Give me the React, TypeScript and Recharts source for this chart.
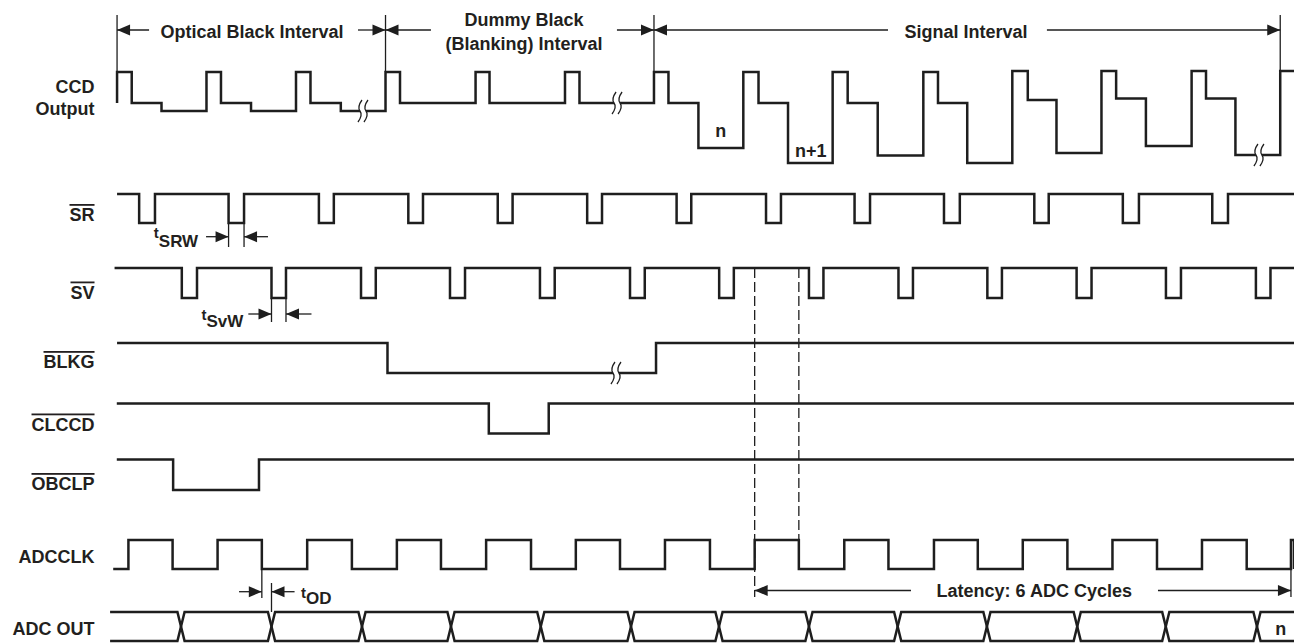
import React from "react";
import { ComposedChart, Line, XAxis, YAxis, ReferenceLine, ReferenceDot } from "recharts";

const W = 1294;
const H = 643;

// time axis: one unit = one ADC clock period, 0 = first ADCCLK rising edge
const T_START = -1.436;
const T_END = 13.034;

// ---------------- data ----------------

// CCD output, one entry per pixel cycle
const CCD_RESET_ON = [-0.127, 0.873, 1.874, 2.875, 3.882, 4.882, 5.877, 6.876, 7.875, 8.889, 9.884, 10.881, 11.889, 12.88];
const CCD_RESET_OFF = [0.037, 1.035, 2.036, 3.037, 4.038, 5.044, 6.039, 7.046, 8.043, 9.053, 10.057, 11.045, 12.05];
const CCD_VIDEO_ON = [0.37, 1.371, 2.375, 3.375, 4.375, 5.375, 6.374, 7.376, 8.379, 9.38, 10.378, 11.378, 12.379];
// levels relative to the black level (0)
const CCD_RESET = [31, 31, 31, 31, 31, 31, 31, 31, 31, 31, 32, 32, 32, 32];
const CCD_BLACK = [0, 0, 0, 0, 0, 0, 0, 0, 0, 0, 3, 4.5, 4.5];
const CCD_VIDEO = [-8, -8, -8, 0, 0, 0, -45, -60, -52.5, -60, -50, -43, -52];

// SR (low pulses: fall, rise)
const SR_PULSES = [
  [0.12, 0.297], [1.12, 1.293], [2.13, 2.297], [3.13, 3.294], [4.13, 4.296], [5.13, 5.296], [6.13, 6.294],
  [7.13, 7.297], [8.12, 8.293], [9.12, 9.297], [10.13, 10.291], [11.12, 11.3], [12.12, 12.296],
];
// SV (low pulses: fall, rise)
const SV_PULSES = [
  [0.597, 0.767], [1.6, 1.762], [2.601, 2.766], [3.596, 3.764], [4.602, 4.767], [5.609, 5.774], [6.606, 6.77],
  [7.61, 7.772], [8.611, 8.773], [9.605, 9.768], [10.603, 10.77], [11.602, 11.77], [12.608, 12.771],
];
const BLKG_LOW = [2.897, 5.9];
const CLCCD_LOW = [4.03, 4.7];
const OBCLP_LOW = [0.5, 1.46];
// ADCCLK (high pulses: rise, fall)
const ADCCLK_HIGH = [
  [0, 0.494], [0.997, 1.492], [1.999, 2.499], [3.002, 3.495], [4.0, 4.502], [5.003, 5.497], [6.0, 6.503],
  [7.003, 7.497], [8.005, 8.499], [9.008, 9.498], [10.001, 10.5], [11.004, 11.502], [12.005, 12.505], [13.0, T_END],
];
// ADC OUT data transitions
const ADC_OUT_CROSS = [0.588, 1.6, 2.612, 3.607, 4.611, 5.62, 6.604, 7.61, 8.602, 9.6, 10.61, 11.6, 12.62];

const INTERVALS = [
  { from: -0.127, to: 2.875, lines: ["Optical Black Interval"], mid: 1.382, gap: [0.231, 2.567] },
  { from: 2.875, to: 5.877, lines: ["Dummy Black", "(Blanking) Interval"], mid: 4.424, gap: [3.383, 5.463] },
  { from: 5.877, to: 12.88, lines: ["Signal Interval"], mid: 9.366, gap: [8.494, 10.271] },
];

// ---------------- layout ----------------
const LABEL_T = -0.379;
const INK = "#1e1e1e";
const TXT: React.CSSProperties = {
  fontFamily: '"Liberation Sans", Arial, Helvetica, sans-serif',
  fontWeight: 700,
  fill: "#231f20",
};
const CCD_Y0 = 103;
const ccdY = (v: number) => CCD_Y0 - v;
const LANE = {
  sr: [194, 223],
  sv: [268, 298],
  blkg: [343, 373],
  clccd: [403.5, 433.5],
  obclp: [459.5, 490],
  adcclk: [540, 569],
  adcout: [612, 641],
};

type Pt = { t: number; y: number };

const steps = (start: number, edges: number[], startHigh: boolean, hi: number, lo: number): Pt[] => {
  let high = startHigh;
  const pts: Pt[] = [{ t: start, y: high ? hi : lo }];
  edges.forEach((e) => {
    pts.push({ t: e, y: high ? hi : lo });
    high = !high;
    pts.push({ t: e, y: high ? hi : lo });
  });
  if (edges[edges.length - 1] < T_END) pts.push({ t: T_END, y: high ? hi : lo });
  return pts;
};

const ccdPoints = (): Pt[] => {
  const pts: Pt[] = [{ t: CCD_RESET_ON[0], y: ccdY(0) }];
  CCD_RESET_ON.forEach((on, k) => {
    const prev = pts[pts.length - 1].y;
    pts.push({ t: on, y: prev }, { t: on, y: ccdY(CCD_RESET[k]) });
    if (k < CCD_RESET_OFF.length) {
      pts.push(
        { t: CCD_RESET_OFF[k], y: ccdY(CCD_RESET[k]) },
        { t: CCD_RESET_OFF[k], y: ccdY(CCD_BLACK[k]) },
        { t: CCD_VIDEO_ON[k], y: ccdY(CCD_BLACK[k]) },
        { t: CCD_VIDEO_ON[k], y: ccdY(CCD_VIDEO[k]) }
      );
    } else {
      pts.push({ t: T_END, y: ccdY(CCD_RESET[k]) });
    }
  });
  return pts;
};

const eye = (startTop: boolean): Pt[] => {
  const [top, bot] = LANE.adcout;
  const h = 0.04;
  let up = startTop;
  const pts: Pt[] = [{ t: -0.205, y: up ? top : bot }];
  ADC_OUT_CROSS.forEach((c) => {
    pts.push({ t: c - h, y: up ? top : bot });
    up = !up;
    pts.push({ t: c + h, y: up ? top : bot });
  });
  pts.push({ t: T_END, y: up ? top : bot });
  return pts;
};

const SERIES: { name: string; pts: Pt[] }[] = [
  { name: "ccd", pts: ccdPoints() },
  { name: "sr", pts: steps(-0.127, SR_PULSES.flat(), true, LANE.sr[0], LANE.sr[1]) },
  { name: "sv", pts: steps(-0.155, SV_PULSES.flat(), true, LANE.sv[0], LANE.sv[1]) },
  { name: "blkg", pts: steps(-0.127, BLKG_LOW, true, LANE.blkg[0], LANE.blkg[1]) },
  { name: "clccd", pts: steps(-0.13, CLCCD_LOW, true, LANE.clccd[0], LANE.clccd[1]) },
  { name: "obclp", pts: steps(-0.13, OBCLP_LOW, true, LANE.obclp[0], LANE.obclp[1]) },
  { name: "adcclk", pts: steps(-0.17, ADCCLK_HIGH.flat(), false, LANE.adcclk[0], LANE.adcclk[1]) },
  { name: "out_a", pts: eye(true) },
  { name: "out_b", pts: eye(false) },
];

// ---------------- helpers for annotations ----------------
const seg = (key: string, t1: number, y1: number, t2: number, y2: number, dash?: string) => (
  <ReferenceLine
    key={key}
    segment={[{ x: t1, y: y1 }, { x: t2, y: y2 }]}
    stroke={INK}
    strokeWidth={1.3}
    strokeDasharray={dash}
    ifOverflow="visible"
  />
);

const arrow = (key: string, t: number, y: number, dir: 1 | -1) => (
  <ReferenceDot
    key={key}
    x={t}
    y={y}
    r={1}
    ifOverflow="visible"
    shape={(p: any) => (
      <polygon
        points={`${p.cx},${p.cy} ${p.cx - 13 * dir},${p.cy - 5.5} ${p.cx - 13 * dir},${p.cy + 5.5}`}
        fill={INK}
      />
    )}
  />
);

const note = (key: string, t: number, y: number, body: React.ReactNode, anchor = "middle", style: React.CSSProperties = {}) => (
  <ReferenceDot
    key={key}
    x={t}
    y={y}
    r={1}
    ifOverflow="visible"
    shape={(p: any) => (
      <text x={p.cx} y={p.cy} textAnchor={anchor} style={{ ...TXT, fontSize: 18, ...style }}>
        {body}
      </text>
    )}
  />
);

const brk = (key: string, t: number, y: number) => (
  <ReferenceDot
    key={key}
    x={t}
    y={y}
    r={1}
    ifOverflow="visible"
    shape={(p: any) => {
      const { cx, cy } = p;
      const curve = (x: number) =>
        `M${x + 2},${cy - 11} Q${x - 3},${cy - 4} ${x},${cy} Q${x + 3},${cy + 4} ${x - 2},${cy + 11}`;
      return (
        <g>
          <rect x={cx - 3} y={cy - 3} width={6} height={6} fill="#fff" />
          <path d={curve(cx - 3)} fill="none" stroke={INK} strokeWidth={1.3} />
          <path d={curve(cx + 3)} fill="none" stroke={INK} strokeWidth={1.3} />
        </g>
      );
    }}
  />
);

const timing = (key: string, t: number, y: number, sub: string, tBase: number, subBase: number, anchor = "end") => (
  <ReferenceDot
    key={key}
    x={t}
    y={y}
    r={1}
    ifOverflow="visible"
    shape={(p: any) => (
      <text x={p.cx} y={p.cy + tBase} textAnchor={anchor} style={{ ...TXT }}>
        <tspan style={{ fontSize: 15 }}>t</tspan>
        <tspan style={{ fontSize: 17 }} dy={subBase - tBase}>
          {sub}
        </tspan>
      </text>
    )}
  />
);

const SIGNAL_LABELS: { text: string; y: number; bar?: boolean }[] = [
  { text: "CCD", y: 92.5 },
  { text: "Output", y: 115 },
  { text: "SR", y: 221, bar: true },
  { text: "SV", y: 298.5, bar: true },
  { text: "BLKG", y: 368, bar: true },
  { text: "CLCCD", y: 430.5, bar: true },
  { text: "OBCLP", y: 490, bar: true },
  { text: "ADCCLK", y: 563 },
  { text: "ADC OUT", y: 635 },
];

export default function App() {
  const annotations: React.ReactNode[] = [];

  // interval markers along the top
  INTERVALS.forEach((iv, i) => {
    annotations.push(seg(`iv${i}a`, iv.from, 30, iv.gap[0], 30));
    annotations.push(seg(`iv${i}b`, iv.gap[1], 30, iv.to, 30));
    annotations.push(arrow(`iv${i}l`, iv.from, 30, -1));
    annotations.push(arrow(`iv${i}r`, iv.to, 30, 1));
    if (iv.lines.length === 1) {
      annotations.push(note(`iv${i}t`, iv.mid, 37.5, iv.lines[0]));
    } else {
      annotations.push(note(`iv${i}t0`, iv.mid, 26, iv.lines[0]));
      annotations.push(note(`iv${i}t1`, iv.mid, 50, iv.lines[1]));
    }
  });
  [-0.127, 2.875, 5.877, 12.88].forEach((t, i) => annotations.push(seg(`ext${i}`, t, 15, t, 72)));

  // tSRW
  annotations.push(seg("srw1", 1.12, 223, 1.12, 247), seg("srw2", 1.293, 223, 1.293, 247));
  annotations.push(seg("srw3", 0.868, 236.7, 1.12, 236.7), arrow("srw4", 1.12, 236.7, 1));
  annotations.push(seg("srw5", 1.293, 236.7, 1.561, 236.7), arrow("srw6", 1.293, 236.7, -1));
  annotations.push(timing("srwt", 0.78, 0, "SRW", 238, 246.5));

  // tSvW
  annotations.push(seg("svw1", 1.6, 298, 1.6, 322), seg("svw2", 1.762, 298, 1.762, 322));
  annotations.push(seg("svw3", 1.341, 314, 1.6, 314), arrow("svw4", 1.6, 314, 1));
  annotations.push(seg("svw5", 1.762, 314, 2.047, 314), arrow("svw6", 1.762, 314, -1));
  annotations.push(timing("svwt", 1.285, 0, "SvW", 320, 327));

  // tOD
  annotations.push(seg("od1", 1.492, 569, 1.492, 598), seg("od2", 1.6, 583, 1.6, 612));
  annotations.push(seg("od3", 1.237, 591.7, 1.492, 591.7), arrow("od4", 1.492, 591.7, 1));
  annotations.push(seg("od5", 1.6, 591.7, 1.858, 591.7), arrow("od6", 1.6, 591.7, -1));
  annotations.push(timing("odt", 1.93, 0, "OD", 598, 604, "start"));

  // latency
  annotations.push(seg("dash1", 7.003, 268, 7.003, 597, "10 4"), seg("dash2", 7.497, 268, 7.497, 540, "10 4"));
  annotations.push(seg("lat1", 7.003, 590.5, 8.751, 590.5), seg("lat2", 11.513, 590.5, 13.0, 590.5));
  annotations.push(arrow("lat3", 7.003, 590.5, -1), arrow("lat4", 13.0, 590.5, 1), seg("lat5", 13.0, 569, 13.0, 597));
  annotations.push(note("latt", 10.13, 597, "Latency: 6 ADC Cycles"));

  // pixel labels
  annotations.push(note("n1", 6.625, 137, "n"), note("n2", 7.63, 157, "n+1"), note("n3", 12.887, 635, "n"));

  // breaks
  annotations.push(brk("b1", 2.623, ccdY(-8)), brk("b2", 5.464, ccdY(0)), brk("b3", 12.642, ccdY(-52)), brk("b4", 5.452, LANE.blkg[1]));

  // signal names
  SIGNAL_LABELS.forEach((l, i) =>
    annotations.push(note(`lab${i}`, LABEL_T, l.y, l.text, "end", l.bar ? { textDecoration: "overline" } : {}))
  );

  return (
    <div style={{ position: "absolute", left: 0, top: 0, width: W, height: H, background: "#fff" }}>
      <ComposedChart width={W} height={H} margin={{ top: 0, right: 0, bottom: 0, left: 0 }}>
        <XAxis hide type="number" dataKey="t" domain={[T_START, T_END]} allowDataOverflow />
        <YAxis hide type="number" domain={[0, H]} reversed allowDataOverflow />
        {SERIES.map((s) => (
          <Line
            key={s.name}
            name={s.name}
            data={s.pts}
            dataKey="y"
            type="linear"
            stroke={INK}
            strokeWidth={2.5}
            strokeLinejoin="miter"
            dot={false}
            activeDot={false}
            isAnimationActive={false}
          />
        ))}
        {annotations}
      </ComposedChart>
    </div>
  );
}
